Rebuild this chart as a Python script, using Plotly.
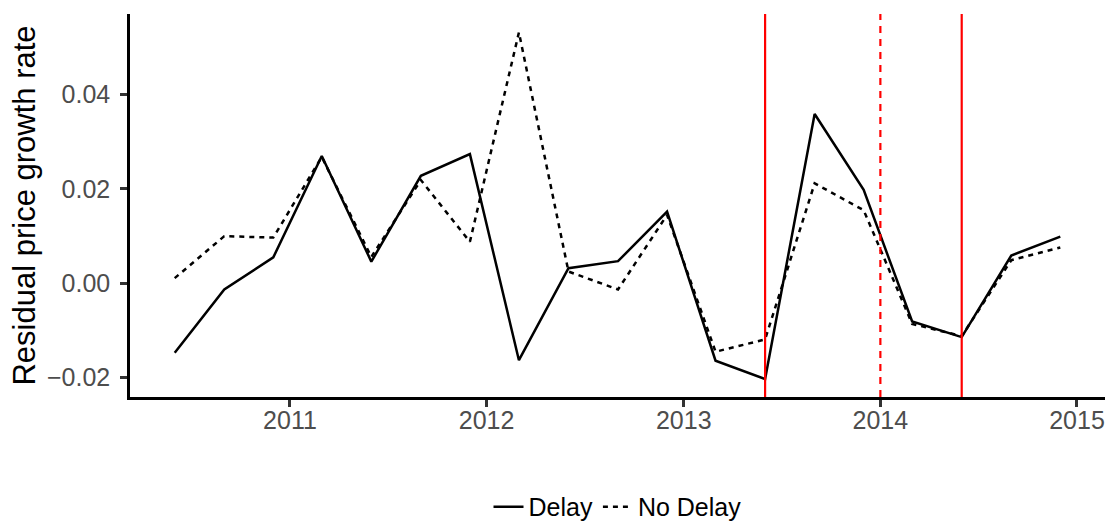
import plotly.graph_objects as go

dates = ["2010-06-01", "2010-09-01", "2010-12-01",
         "2011-03-01", "2011-06-01", "2011-09-01", "2011-12-01",
         "2012-03-01", "2012-06-01", "2012-09-01", "2012-12-01",
         "2013-03-01", "2013-06-01", "2013-09-01", "2013-12-01",
         "2014-03-01", "2014-06-01", "2014-09-01", "2014-12-01"]

delay = [-0.0147, -0.0013, 0.0055, 0.0270, 0.0046, 0.0228, 0.0274,
         -0.0163, 0.0032, 0.0047, 0.0152, -0.0164, -0.0203, 0.0359,
         0.0198, -0.0081, -0.0114, 0.0059, 0.0099]

no_delay = [0.0011, 0.0100, 0.0097, 0.0268, 0.0056, 0.0219, 0.0088,
            0.0532, 0.0025, -0.0013, 0.0145, -0.0145, -0.0119, 0.0212,
            0.0155, -0.0086, -0.0112, 0.0049, 0.0076]

solid_events = ["2013-06-01", "2014-06-01"]
dashed_events = ["2014-01-01"]

y_title = "Residual price growth rate"

fig = go.Figure()
fig.add_trace(go.Scatter(x=dates, y=delay, mode="lines", name="Delay",
                         line=dict(color="black", width=2.5)))
fig.add_trace(go.Scatter(x=dates, y=no_delay, mode="lines", name="No Delay",
                         line=dict(color="black", width=2.5, dash="5px,5px")))

for d in solid_events:
    fig.add_shape(type="line", xref="x", yref="paper", x0=d, x1=d, y0=0, y1=1,
                  line=dict(color="#FF0000", width=2.2))
for d in dashed_events:
    fig.add_shape(type="line", xref="x", yref="paper", x0=d, x1=d, y0=0, y1=1,
                  line=dict(color="#FF0000", width=2.2, dash="7px,6px"))

fig.add_annotation(text=y_title, xref="paper", yref="paper", x=-0.1087, y=0.5,
                   xanchor="center", yanchor="middle", textangle=-90, showarrow=False,
                   font=dict(size=31, color="black"))

fig.update_layout(
    template="none",
    width=1109, height=521,
    margin=dict(l=130, r=4, t=14, b=124, autoexpand=False),
    paper_bgcolor="white", plot_bgcolor="white",
    font=dict(family="Liberation Sans, Arial, sans-serif", color="black"),
    showlegend=True,
    legend=dict(orientation="h", x=0.5, xanchor="center", y=-0.287, yanchor="middle",
                font=dict(size=25, color="black"), itemwidth=30,
                tracegroupgap=0, bgcolor="rgba(0,0,0,0)"),
    xaxis=dict(type="date", range=["2010-03-10", "2015-02-22"], automargin=False,
               tick0="2011-01-01", dtick="M12", tickformat="%Y",
               showgrid=False, zeroline=False,
               showline=True, linecolor="black", linewidth=2.5,
               ticks="outside", ticklen=7, tickwidth=2.5, tickcolor="#333333",
               ticklabelstandoff=-8,
               tickfont=dict(size=25, color="#4d4d4d")),
    yaxis=dict(range=[-0.0241, 0.0571], tick0=0, dtick=0.02, tickformat=".2f",
               automargin=False,
               showgrid=False, zeroline=False,
               showline=True, linecolor="black", linewidth=2.5,
               ticks="outside", ticklen=7, tickwidth=2.5, tickcolor="#333333",
               ticklabelstandoff=5,
               tickfont=dict(size=25, color="#4d4d4d")),
)

fig.write_html("out.html",
               config={"displayModeBar": False},
               post_script="document.body.style.margin='0';document.body.style.overflow='hidden';")
